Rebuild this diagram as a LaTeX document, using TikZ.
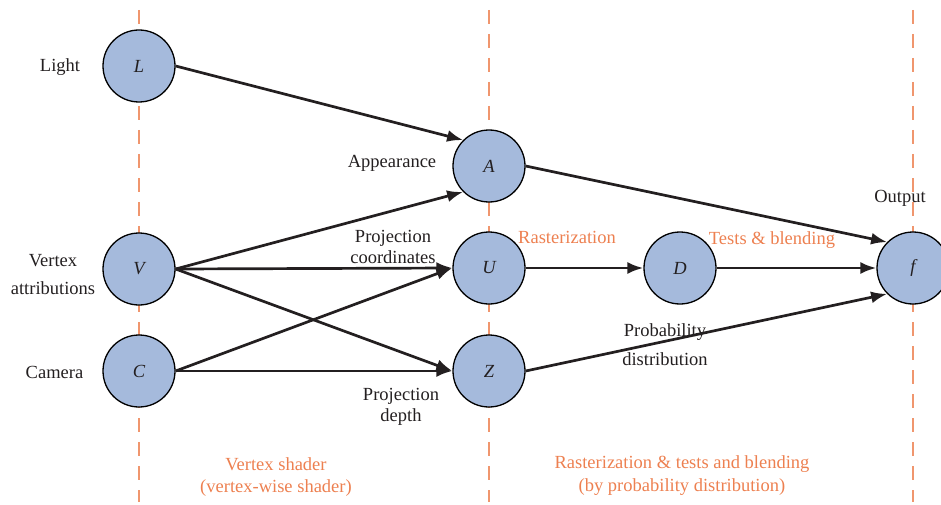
\documentclass[tikz,border=0pt]{standalone}
\usepackage{fontspec}
\setmainfont{Liberation Serif}
\usetikzlibrary{arrows.meta}
\definecolor{nodefill}{RGB}{165,186,220}
\definecolor{orangetxt}{RGB}{237,128,80}
\definecolor{orangeline}{RGB}{240,150,110}
\definecolor{txt}{RGB}{35,31,32}
\begin{document}
\begin{tikzpicture}[x=1pt,y=-1pt,
  font=\fontsize{18.5}{20.5}\selectfont,
  var/.style={circle,draw=black,line width=1.3pt,fill=nodefill,minimum size=72pt,inner sep=0pt,
    font=\fontsize{18.5}{20.5}\selectfont\itshape,text=txt},
  conn/.style={line width=2.7pt,draw=txt,-{Latex[length=16pt,width=12pt]}},
  lane/.style={orangeline,line width=1.5pt,dash pattern=on 14pt off 10pt},
  lbl/.style={text=txt,align=center,inner sep=0pt},
  phase/.style={text=orangetxt,align=center,inner sep=0pt}]
\useasboundingbox (0,0) rectangle (941,505);

% lanes
\draw[lane] (139,10) -- (139,502);
\draw[lane] (489,10) -- (489,502);
\draw[lane] (913,10) -- (913,502);

% nodes
\node[var] (L) at (139,66) {L};
\node[var] (V) at (139,269) {V};
\node[var] (C) at (139,371) {C};
\node[var] (A) at (489,166) {A};
\node[var] (U) at (489,268) {U};
\node[var] (Z) at (489,371) {Z};
\node[var] (D) at (680,268) {D};
\node[var] (f) at (913,268) {f};

% connectors
\draw[conn] (L.east) -- (A.135);
\draw[conn] (V.east) -- (A.225);
\draw[conn] (V.east) -- (U.west);
\draw[conn] (V.east) -- (Z.west);
\draw[conn] (C.east) -- (U.west);
\draw[conn] (C.east) -- (Z.west);
\draw[conn] (A.east) -- (f.135);
\draw[conn] (U.east) -- (D.west);
\draw[conn] (D.east) -- (f.west);
\draw[conn] (Z.east) -- (f.225);

% labels
\node[lbl] (tLight) at (60,67) {Light};
\node[lbl] (tVertex) at (53,274.5) {Vertex\\[8pt]attributions};
\node[lbl] (tCamera) at (54.5,372) {Camera};
\node[lbl] (tApp) at (392,163) {Appearance};
\node[lbl] (tPC) at (393,247) {Projection\\coordinates};
\node[lbl] (tPD) at (401,407) {Projection\\depth};
\node[lbl] (tProb) at (665,344.5) {Probability\\[8pt]distribution};
\node[lbl] (tOut) at (900,198) {Output};
\node[phase] (tRast) at (567,237) {Rasterization};
\node[phase] (tTests) at (772,240) {Tests \& blending};
\node[phase] (tVS) at (276,477) {Vertex shader\\[2pt](vertex-wise shader)};
\node[phase] (tRT) at (682,475.5) {Rasterization \& tests and blending\\[2pt](by probability distribution)};
\end{tikzpicture}
\end{document}
